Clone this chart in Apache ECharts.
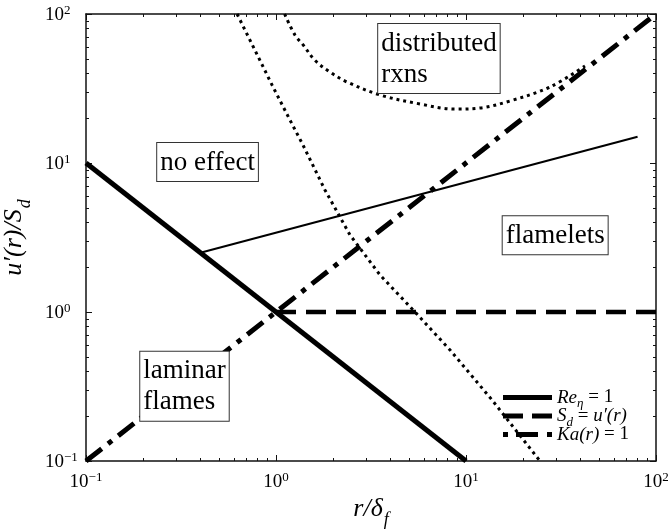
<!DOCTYPE html>
<html><head><meta charset="utf-8">
<script src="https://cdn.jsdelivr.net/npm/echarts@6/dist/echarts.min.js"></script>
<style>html,body{margin:0;padding:0;background:#fff}#chart{width:668px;height:529px}</style>
</head><body><div id="chart"></div>
<script>
// Combustion regime boundaries on the (r/δf, u'(r)/Sd) plane, log–log
const reEtaLine = [[0.1, 10], [10, 0.1]];
const sdLine = [[1, 1], [100, 1]];
const kaLine = [[0.1, 0.1], [100, 100]];
const turbulenceLine = [[0.4, 2.5], [80, 15]];
const dottedSteep = [[0.624, 100], [0.774, 57.3], [0.953, 33.4], [1.185, 19.4], [1.387, 13.2],
  [1.81, 6.59], [2.45, 3.29], [3.53, 1.77], [5.39, 1.0], [8.24, 0.556], [13.7, 0.257], [24.5, 0.1]];
const dottedCurve = [[1.11, 100], [1.26, 72], [1.39, 62], [1.6, 49], [1.92, 40.8], [2.36, 35],
  [3.53, 28.6], [5.72, 24.9], [8.75, 23.0], [11.9, 23.4], [17.1, 26.1], [27.7, 32.4], [42.3, 44.8]];
const majorTicks = [0.1, 1, 10, 100];
const minorTicks = [0.2, 0.3, 0.4, 0.5, 0.6, 0.7, 0.8, 0.9, 2, 3, 4, 5, 6, 7, 8, 9,
  20, 30, 40, 50, 60, 70, 80, 90];

// region labels, anchored at their top-left corner in data space
const regionLabels = [
  { text: 'no effect', at: [0.237, 13.6] },
  { text: 'distributed\nrxns', at: [3.45, 85.7] },
  { text: 'laminar\nflames', at: [0.193, 0.54] },
  { text: 'flamelets', at: [15.6, 4.4] }
];
const turbulenceCaption = { text: 'Turbulence Line', at: [22.8, 8.4], angle: 14.6 };

const SERIF = '"Liberation Serif", "DejaVu Serif", serif';
const INK = '#000';

function powerLabel(v) {
  const e = Math.round(Math.log10(v));
  return '{b|10}{e|' + (e < 0 ? '\u2212' + (-e) : e) + '}';
}
const tickRich = {
  b: { fontFamily: SERIF, fontSize: 19, color: INK, lineHeight: 22 },
  e: { fontFamily: SERIF, fontSize: 13, color: INK, verticalAlign: 'top', lineHeight: 13 }
};

function axisPair(kind, pos) {
  const horiz = kind === 'x';
  const base = { type: 'log', logBase: 10, min: 0.1, max: 100, position: pos,
    splitLine: { show: false }, minorSplitLine: { show: false } };
  const major = Object.assign({}, base, {
    axisLine: { show: true, onZero: false, lineStyle: { color: '#111', width: 1.5 } },
    axisTick: { show: true, inside: true, length: 6, customValues: majorTicks,
      lineStyle: { color: '#111', width: 1 } },
    axisLabel: { show: false }
  });
  const minor = Object.assign({}, base, {
    axisLine: { show: false, onZero: false },
    axisTick: { show: true, inside: true, length: 3, customValues: minorTicks,
      lineStyle: { color: '#111', width: 1 } },
    axisLabel: { show: false }
  });
  const primary = (pos === 'bottom' || pos === 'left');
  if (primary) {
    major.axisLabel = {
      show: true, customValues: majorTicks, formatter: powerLabel, rich: tickRich,
      margin: horiz ? 10 : 41, align: horiz ? 'center' : 'left',
      padding: horiz ? 0 : [3, 0, 0, 0]
    };
    if (horiz) {
      major.name = '{i|r/\u03B4}{s|f}';
      major.nameLocation = 'middle';
      major.nameGap = 28;
    } else {
      major.name = '{i|u\u2032(r)/S}{s|d}';
      major.nameLocation = 'middle';
      major.nameGap = 44;
      major.nameRotate = 90;
    }
    major.nameTextStyle = {
      rich: {
        i: { fontFamily: SERIF, fontStyle: 'italic', fontSize: 26, color: INK },
        s: { fontFamily: SERIF, fontStyle: 'italic', fontSize: 18, color: INK,
             verticalAlign: 'bottom', padding: [0, 0, -7, 1] }
      }
    };
  }
  return [major, minor];
}

const xAxes = [...axisPair('x', 'bottom'), ...axisPair('x', 'top')];
const yAxes = [...axisPair('y', 'left'), ...axisPair('y', 'right')];

function lineSeries(name, data, width, type, extra) {
  return Object.assign({
    name, type: 'line', data, xAxisIndex: 0, yAxisIndex: 0,
    symbol: 'none', showSymbol: false, silent: true, animation: false,
    itemStyle: { color: INK },
    lineStyle: { color: INK, width, type, cap: 'butt' }, z: 3
  }, extra || {});
}

// legend swatches drawn as filled bars so the dash patterns read clearly
const legendItems = [
  { name: 'Re', label: '{i|Re}{s|\u03B7}{n| = 1}', icon: 'path://M0,0h49v5h-49z' },
  { name: 'Sd', label: '{i|S}{s|d}{n| = }{i|u\u2032(r)}',
    icon: 'path://M0,0h20v5h-20z M29,0h20v5h-20z' },
  { name: 'Ka', label: '{i|Ka(r)}{n| = 1}',
    icon: 'path://M0,0h5v5h-5z M13,0h22v5h-22z M44,0h5v5h-5z' }
];

const option = {
  backgroundColor: '#fff',
  animation: false,
  grid: { left: 86, right: 12, top: 14, bottom: 68, containLabel: false, outerBoundsMode: 'none' },
  xAxis: xAxes,
  yAxis: yAxes,
  legend: {
    data: legendItems.map(d => ({ name: d.name, icon: d.icon, itemStyle: { color: INK } })),
    orient: 'vertical', left: 503, top: 388, padding: 0,
    itemWidth: 49, itemHeight: 5, itemGap: -4,
    formatter: n => legendItems.find(d => d.name === n).label,
    textStyle: {
      padding: [0, 0, 0, 0],
      rich: {
        i: { fontFamily: SERIF, fontStyle: 'italic', fontSize: 19, color: INK, lineHeight: 20 },
        s: { fontFamily: SERIF, fontStyle: 'italic', fontSize: 13, color: INK, lineHeight: 20,
             verticalAlign: 'bottom', padding: [0, 0, -3, 0] },
        n: { fontFamily: SERIF, fontSize: 19, color: INK, lineHeight: 20 }
      }
    },
    selectedMode: false
  },
  series: [
    lineSeries('Re', reEtaLine, 5, 'solid'),
    lineSeries('Sd', sdLine, 4.5, [20, 10]),
    lineSeries('Ka', kaLine, 5, [20, 8, 5, 8]),
    lineSeries('turbulence', turbulenceLine, 2, 'solid', {
      markPoint: {
        symbol: 'none', silent: true,
        data: [{ coord: turbulenceCaption.at, value: turbulenceCaption.text }],
        label: { show: true, formatter: turbulenceCaption.text, rotate: turbulenceCaption.angle,
          fontFamily: SERIF, fontSize: 19, color: INK, position: 'inside',
          align: 'center', verticalAlign: 'middle' }
      }
    }),
    lineSeries('dottedSteep', dottedSteep, 3, [3, 4]),
    lineSeries('dottedCurve', dottedCurve, 3, [3, 4], { smooth: 0.35 }),
    {
      name: 'regions', type: 'scatter', xAxisIndex: 0, yAxisIndex: 0,
      symbolSize: 0, silent: true, z: 10,
      itemStyle: { opacity: 1 },
      data: regionLabels.map(r => ({ value: r.at, name: r.text })),
      label: {
        show: true, position: [0, 0], formatter: p => p.name,
        fontFamily: SERIF, fontSize: 27, lineHeight: 31, color: INK,
        backgroundColor: '#fff', borderColor: '#333', borderWidth: 1, padding: [4, 3, 3, 3]
      }
    }
  ]
};

echarts.init(document.getElementById('chart'), null, { renderer: 'canvas' }).setOption(option);
</script></body></html>
